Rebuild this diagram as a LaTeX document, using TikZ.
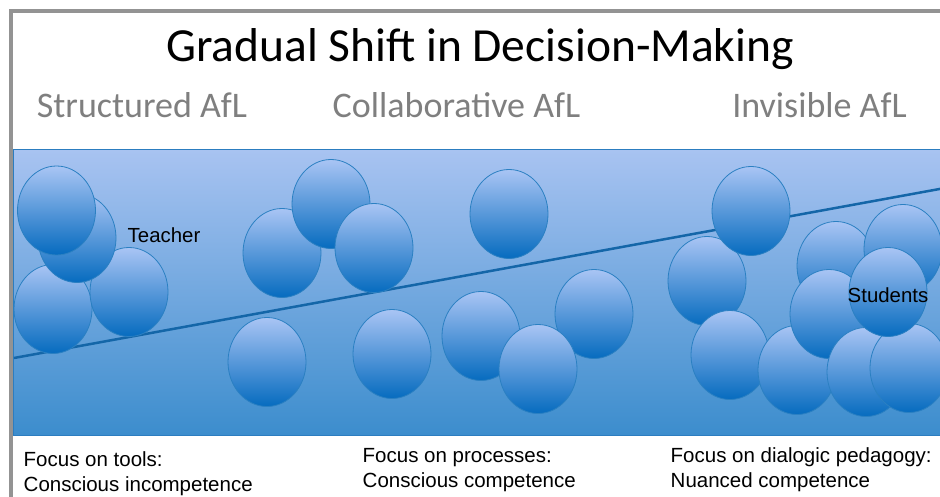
\documentclass[tikz,border=0pt]{standalone}
\usepackage{fontspec}
\setmainfont{Liberation Sans}
\newfontfamily\headfont{Carlito}
\usetikzlibrary{calc}
\definecolor{framegray}{HTML}{939393}
\definecolor{bandedge}{HTML}{2C7DC0}
\definecolor{bandtop}{HTML}{A8C3F1}
\definecolor{bandbottom}{HTML}{3C8DCD}
\definecolor{balltop}{HTML}{A9C5F4}
\definecolor{ballbottom}{HTML}{066BBF}
\definecolor{ballline}{HTML}{2B80C2}
\definecolor{slopeblue}{HTML}{1466A8}
\definecolor{subgray}{HTML}{7F7F7F}
\tikzset{
	ball/.style={draw=ballline, line width=0.8pt, top color=balltop, bottom color=ballbottom},
	stage/.style={anchor=base, text=subgray, font=\headfont\fontsize{36}{42}\selectfont},
	focus/.style={anchor=base west, align=left, inner sep=0pt, font=\fontsize{20.5}{24.5}\selectfont},
	who/.style={anchor=base, font=\fontsize{20.4}{24}\selectfont}
}
\def\ball(#1,#2){\draw[ball] (#1,#2) ellipse [x radius=39pt, y radius=44.5pt];}

\begin{document}
\begin{tikzpicture}[x=1pt, y=-1pt]
			%%%%% START %%%%%
			\useasboundingbox (0,0) rectangle (940,497);
			
			\draw[framegray, line width=3.5pt] (11,500) -- (11,11) -- (945,11);
			
			\node[anchor=base, font=\headfont\fontsize{47.5}{54}\selectfont] (title) at (480,61.5) {Gradual Shift in Decision-Making};
			\node[stage] (structured) at (142,118) {Structured AfL};
			\node[stage] (collaborative) at (456.5,118) {Collaborative AfL};
			\node[stage] (invisible) at (819.5,118) {Invisible AfL};
			
			\draw[bandedge, line width=1pt, top color=bandtop, bottom color=bandbottom] (13,150) rectangle (945,435);
			
			\coordinate (lowend) at (14,358);
			\coordinate (highend) at (945,188);
			\draw[slopeblue, line width=2.5pt] (lowend) -- (highend);
			
			% teacher side
			\ball(53,309)
			\ball(129,292)
			\ball(77,238)
			\ball(56.5,210.5)
			\node[who] (teacher) at (164,243) {Teacher};
			
			\ball(282,253)
			\ball(331,204)
			\ball(374,248)
			\ball(267,362)
			
			\ball(509,214)
			\ball(392,354)
			\ball(481,336)
			\ball(594,314)
			\ball(538,369)
			
			% student side
			\ball(707,281)
			\ball(751,211)
			\ball(730,355)
			\ball(797,370)
			\ball(836,266)
			\ball(903,249)
			\ball(829,314)
			\ball(866,372)
			\ball(909,368)
			\ball(888,292)
			\node[who] (students) at (888,302) {Students};
			
			% last line's baseline
			\node[focus] (tools) at (23.5,491) {Focus on tools:\\Conscious incompetence};
			\node[focus] (processes) at (362.5,487) {Focus on processes:\\Conscious competence};
			\node[focus] (dialogic) at (670.5,487) {Focus on dialogic pedagogy:\\Nuanced competence};
			
			%%%%% END %%%%%
\end{tikzpicture}
\end{document}
